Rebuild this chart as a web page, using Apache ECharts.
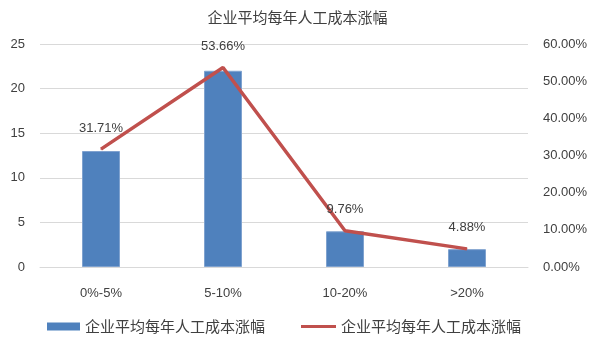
<!DOCTYPE html>
<html>
<head>
<meta charset="utf-8">
<script src="https://cdn.jsdelivr.net/npm/echarts@6/dist/echarts.min.js"></script>
<style>
html,body{margin:0;padding:0;background:#fff;}
#main{width:595px;height:340px;}
</style>
</head>
<body>
<div id="main"></div>
<script>
var categories = ['0%-5%', '5-10%', '10-20%', '>20%'];
var barValues = [13, 22, 4, 2];
var lineValues = [31.71, 53.66, 9.76, 4.88];
var barName = '企业平均每年人工成本涨幅';
var lineName = '企业平均每年人工成本涨幅 ';

var chart = echarts.init(document.getElementById('main'));
var font = '"Liberation Sans", "Noto Sans CJK SC", sans-serif';
var cjk = '"Noto Sans CJK SC", sans-serif';
var legendText = { fontSize: 15, color: '#404040', fontFamily: cjk };
var option = {
    animation: false,
    textStyle: { fontFamily: font },
    title: {
        text: barName,
        left: 'center',
        top: 5,
        textStyle: { fontSize: 15, fontWeight: 'normal', color: '#404040', fontFamily: cjk }
    },
    grid: { left: 40, right: 67, top: 44, bottom: 73 },
    legend: [
        {
            left: 42,
            top: 314,
            itemWidth: 33,
            itemHeight: 8,
            textStyle: legendText,
            itemStyle: { borderWidth: 0 },
            data: [{ name: barName, icon: 'rect' }]
        },
        {
            left: 296,
            top: 314,
            itemWidth: 35,
            itemHeight: 3,
            textStyle: legendText,
            data: [{ name: lineName, icon: 'rect' }],
            formatter: function (n) { return n.trim(); }
        }
    ],
    xAxis: {
        type: 'category',
        data: categories,
        axisTick: { show: false },
        axisLine: { lineStyle: { color: '#D9D9D9' } },
        axisLabel: { color: '#404040', fontSize: 13, margin: 20 }
    },
    yAxis: [
        {
            type: 'value',
            min: 0, max: 25, interval: 5,
            axisLabel: { color: '#404040', fontSize: 13, margin: 15 },
            splitLine: { lineStyle: { color: '#D9D9D9' } }
        },
        {
            type: 'value',
            min: 0, max: 60, interval: 10,
            axisLabel: {
                color: '#404040', fontSize: 13, margin: 15,
                formatter: function (v) { return v.toFixed(2) + '%'; }
            },
            splitLine: { show: false }
        }
    ],
    series: [
        {
            name: barName,
            type: 'bar',
            data: barValues,
            barWidth: 38,
            itemStyle: { color: '#4F81BD', borderColor: '#7FA2CF', borderWidth: 1 }
        },
        {
            name: lineName,
            type: 'line',
            yAxisIndex: 1,
            data: lineValues,
            symbol: 'circle',
            symbolSize: 1,
            showSymbol: true,
            lineStyle: { color: '#C0504D', width: 3.5 },
            itemStyle: { color: '#C0504D' },
            label: {
                show: true,
                position: 'top',
                distance: 14,
                color: '#404040',
                fontSize: 13,
                formatter: function (p) { return p.value.toFixed(2) + '%'; }
            }
        }
    ]
};
chart.setOption(option);
</script>
</body>
</html>
